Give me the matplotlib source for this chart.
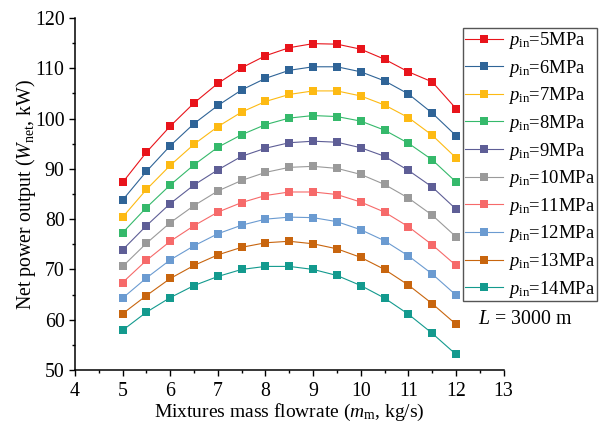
import matplotlib
matplotlib.use("Agg")
import matplotlib.pyplot as plt
from matplotlib.ticker import MultipleLocator

plt.rcParams['font.family'] = ['Liberation Serif', 'DejaVu Serif']
plt.rcParams['mathtext.fontset'] = 'custom'
plt.rcParams['mathtext.rm'] = 'Liberation Serif'
plt.rcParams['mathtext.it'] = 'Liberation Serif:italic'

flow = [5, 5.5, 6, 6.5, 7, 7.5, 8, 8.5, 9, 9.5, 10, 10.5, 11, 11.5, 12]

p5 = [87.3, 93.3, 98.5, 103.1, 107.0, 110.1, 112.5, 114.1, 114.9, 114.8, 113.8, 111.8, 109.3, 107.3, 102.0]
p6 = [83.8, 89.5, 94.6, 99.0, 102.6, 105.7, 108.0, 109.6, 110.3, 110.3, 109.3, 107.5, 104.9, 101.1, 96.6]
p7 = [80.4, 85.9, 90.7, 94.9, 98.4, 101.3, 103.4, 104.8, 105.5, 105.5, 104.5, 102.7, 100.2, 96.7, 92.2]
p8 = [77.3, 82.3, 86.8, 90.8, 94.3, 96.8, 98.8, 100.1, 100.6, 100.4, 99.5, 97.7, 95.1, 91.8, 87.4]
p9 = [73.9, 78.7, 83.1, 86.8, 89.8, 92.5, 94.1, 95.2, 95.5, 95.3, 94.2, 92.5, 89.7, 86.4, 82.0]
p10 = [70.6, 75.2, 79.3, 82.7, 85.6, 87.7, 89.3, 90.3, 90.5, 90.1, 88.9, 86.9, 84.2, 80.8, 76.5]
p11 = [67.4, 71.8, 75.6, 78.7, 81.4, 83.3, 84.7, 85.4, 85.4, 84.9, 83.4, 81.4, 78.5, 74.9, 70.8]
p12 = [64.3, 68.3, 71.9, 74.7, 77.1, 78.8, 80.0, 80.4, 80.3, 79.5, 77.9, 75.7, 72.7, 69.1, 64.9]
p13 = [61.2, 64.8, 68.2, 70.8, 72.9, 74.4, 75.3, 75.6, 75.1, 74.1, 72.4, 70.0, 66.9, 63.2, 59.1]
p14 = [57.9, 61.5, 64.4, 66.8, 68.6, 70.0, 70.6, 70.6, 70.0, 68.8, 66.8, 64.3, 61.1, 57.3, 53.1]

pressures = [5, 6, 7, 8, 9, 10, 11, 12, 13, 14]
series = [p5, p6, p7, p8, p9, p10, p11, p12, p13, p14]
colors = ['#E8141B', '#2F6497', '#FDBA13', '#35B96B', '#5E5E96',
          '#9A9A9A', '#F66A6A', '#6B9BD1', '#C8650E', '#139A8E']

fig = plt.figure(figsize=(6.02, 4.22), dpi=100)
ax = fig.add_axes([75/602, 1-370/422, (503.6-75)/602, (370-18)/422])

for p, vals, c in zip(pressures, series, colors):
    ax.plot(flow, vals, color=c, lw=0.8, marker='s', markersize=5.8,
            markeredgewidth=0, label=r'$p_{\mathrm{in}}$=%dMPa' % p)

ax.set_xlim(4, 13)
ax.set_ylim(50, 120)
ax.xaxis.set_major_locator(MultipleLocator(1))
ax.xaxis.set_minor_locator(MultipleLocator(0.5))
ax.yaxis.set_major_locator(MultipleLocator(10))
ax.yaxis.set_minor_locator(MultipleLocator(5))
ax.tick_params(which='major', direction='out', length=4, width=1, labelsize=14.3)
ax.tick_params(which='minor', direction='out', length=2, width=1)
ax.tick_params(axis='x', which='major', pad=5)
ax.tick_params(axis='y', which='major', pad=3.5)
for s in ['top', 'right']:
    ax.spines[s].set_visible(False)
for s in ['left', 'bottom']:
    ax.spines[s].set_linewidth(1.1)

ax.set_xlabel(r'Mixtures mass flowrate ($m_{\mathrm{m}}$, kg/s)', fontsize=14, labelpad=0.5)
ax.set_ylabel(r'Net power output ($W_{\mathrm{net}}$, kW)', fontsize=14.3, labelpad=-2)

ax.text(525/602, 1-319/422, r'$L$ = 3000 m', transform=fig.transFigure,
        fontsize=14.3, ha='center', va='center')

leg = ax.legend(loc='upper left', bbox_to_anchor=(463/602, 1-28.3/422),
                bbox_transform=fig.transFigure, fontsize=13.4, frameon=True,
                fancybox=False, edgecolor='#555555', framealpha=1,
                handlelength=2.05, handletextpad=0.26, labelspacing=0.355,
                borderpad=0.1, borderaxespad=0)
leg.get_frame().set_linewidth(1.0)

fig.savefig('out.png', dpi=100)
